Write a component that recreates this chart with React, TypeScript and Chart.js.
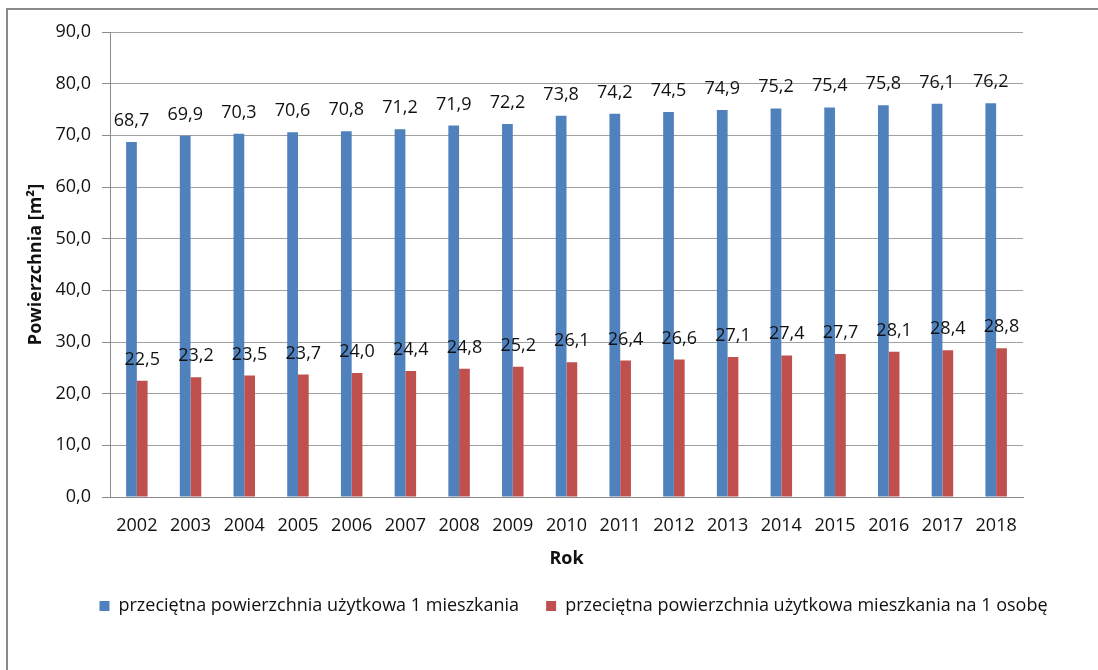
import React, { useEffect, useRef } from "react";
import { Chart, registerables } from "chart.js";

Chart.register(...registerables);

const years = ["2002", "2003", "2004", "2005", "2006", "2007", "2008", "2009", "2010", "2011", "2012", "2013", "2014", "2015", "2016", "2017", "2018"];
const avgDwellingArea = [68.7, 69.9, 70.3, 70.6, 70.8, 71.2, 71.9, 72.2, 73.8, 74.2, 74.5, 74.9, 75.2, 75.4, 75.8, 76.1, 76.2];
const areaPerPerson = [22.5, 23.2, 23.5, 23.7, 24.0, 24.4, 24.8, 25.2, 26.1, 26.4, 26.6, 27.1, 27.4, 27.7, 28.1, 28.4, 28.8];
const seriesNames = [
  "przeciętna powierzchnia użytkowa 1 mieszkania",
  "przeciętna powierzchnia użytkowa mieszkania na 1 osobę",
];
const yTicks = [0, 10, 20, 30, 40, 50, 60, 70, 80, 90];

const FONT = "'Open Sans', 'Noto Sans', sans-serif";
const FS = 18;
const fmt = (v: number) => v.toFixed(1).replace(".", ",");

const framePlugin = {
  id: "frame",
  beforeDraw(chart: any) {
    const ctx = chart.ctx;
    ctx.save();
    ctx.fillStyle = "#ffffff";
    ctx.fillRect(0, 0, chart.width, chart.height);
    ctx.fillStyle = "#8a8a8a";
    ctx.fillRect(6, 8, chart.width - 6, 2);
    ctx.fillRect(6, 8, 2, chart.height - 8);
    ctx.restore();
  },
};

const legendShiftPlugin = {
  id: "legendShift",
  afterLayout(chart: any) {
    const lg = chart.legend;
    if (!lg) return;
    const shift = 57;
    lg.left += shift;
    lg.right += shift;
  },
};

const valueLabelsPlugin = {
  id: "valueLabels",
  afterDatasetsDraw(chart: any) {
    const ctx = chart.ctx;
    ctx.save();
    ctx.font = `${FS}px ${FONT}`;
    ctx.fillStyle = "#111111";
    ctx.textAlign = "center";
    ctx.textBaseline = "alphabetic";
    chart.data.datasets.forEach((ds: any, i: number) => {
      const meta = chart.getDatasetMeta(i);
      meta.data.forEach((el: any, j: number) => {
        ctx.fillText(fmt(ds.data[j]), el.x, el.y - 16);
      });
    });
    ctx.restore();
  },
};

export default function App() {
  const ref = useRef<HTMLCanvasElement>(null);

  useEffect(() => {
    if (!ref.current) return;
    const chart = new Chart(ref.current, {
      type: "bar",
      data: {
        labels: years,
        datasets: [
          {
            label: seriesNames[0],
            data: avgDwellingArea,
            backgroundColor: "#4F81BD",
            categoryPercentage: 0.4,
            barPercentage: 1.0,
          },
          {
            label: seriesNames[1],
            data: areaPerPerson,
            backgroundColor: "#C0504D",
            categoryPercentage: 0.4,
            barPercentage: 1.0,
          },
        ],
      },
      options: {
        responsive: false,
        animation: false,
        devicePixelRatio: 1,
        layout: { padding: { top: 32, right: 75, bottom: 45, left: 10 } },
        plugins: {
          tooltip: { enabled: false },
          legend: {
            position: "bottom",
            labels: {
              boxWidth: 10,
              boxHeight: 10,
              padding: 27,
              color: "#111111",
              font: { family: FONT, size: FS },
            },
          },
        },
        scales: {
          x: {
            grid: { display: false, drawTicks: false },
            border: { display: true, color: "#8a8a8a", width: 1 },
            ticks: {
              padding: 18,
              color: "#111111",
              font: { family: FONT, size: FS },
              maxRotation: 0,
              autoSkip: false,
            },
            title: {
              display: true,
              text: "Rok",
              color: "#111111",
              font: { family: FONT, size: FS, weight: "bold" },
              padding: { top: 0, bottom: 0 },
            },
            afterFit(scale: any) {
              scale.height = 73;
            },
          },
          y: {
            min: 0,
            max: 90,
            afterBuildTicks(scale: any) {
              scale.ticks = yTicks.map((v) => ({ value: v }));
            },
            grid: {
              color: "#a0a0a0",
              lineWidth: 1,
              drawTicks: true,
              tickLength: 8,
              tickColor: "#8a8a8a",
            },
            border: { display: true, color: "#8a8a8a", width: 1 },
            ticks: {
              padding: 11,
              color: "#111111",
              font: { family: FONT, size: FS },
              callback: (v: any) => fmt(Number(v)),
            },
            title: {
              display: true,
              text: "Powierzchnia [m²]",
              color: "#111111",
              font: { family: FONT, size: FS, weight: "bold" },
              padding: { top: 15, bottom: 0 },
            },
            afterFit(scale: any) {
              scale.width = 100;
            },
          },
        },
      },
      plugins: [framePlugin, legendShiftPlugin, valueLabelsPlugin],
    } as any);
    return () => chart.destroy();
  }, []);

  return (
    <div style={{ position: "fixed", left: 0, top: 0, width: 1098, height: 670, background: "#fff" }}>
      <canvas ref={ref} width={1098} height={670} style={{ width: 1098, height: 670, display: "block" }} />
    </div>
  );
}
